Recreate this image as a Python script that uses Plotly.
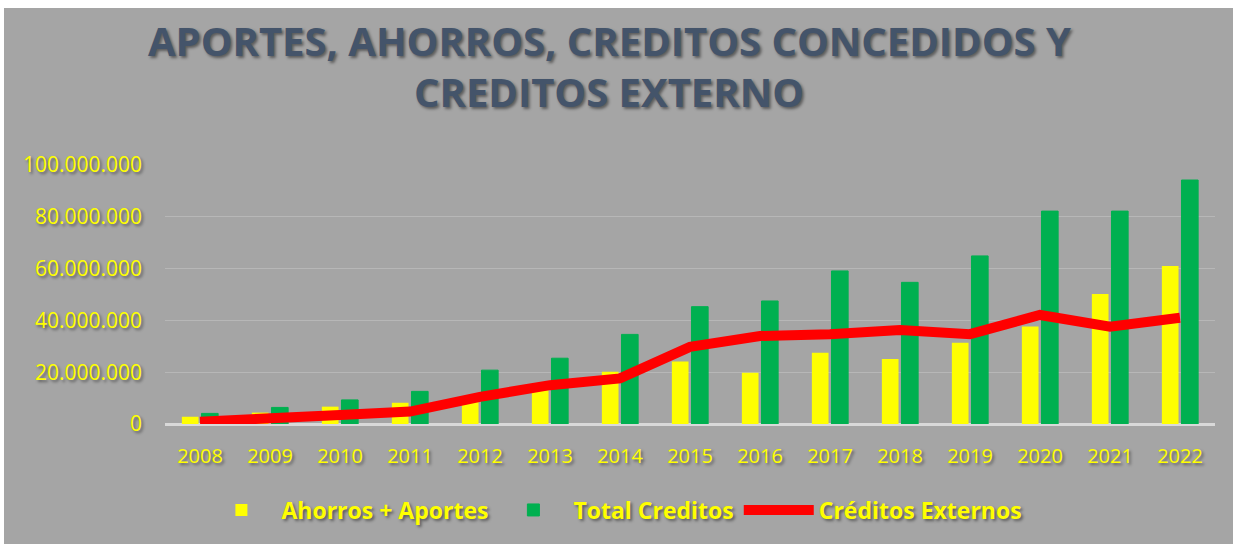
import plotly.graph_objects as go

# data
years = ["2008", "2009", "2010", "2011", "2012", "2013", "2014", "2015",
         "2016", "2017", "2018", "2019", "2020", "2021", "2022"]
ahorros_aportes = [2.8e6, 4.4e6, 6.7e6, 8.2e6, 10.8e6, 13.0e6, 20.2e6, 24.1e6,
                   19.8e6, 27.5e6, 25.1e6, 31.4e6, 37.6e6, 50.2e6, 61.0e6]
total_creditos = [4.1e6, 6.4e6, 9.3e6, 12.6e6, 20.8e6, 25.4e6, 34.6e6, 45.3e6,
                  47.5e6, 59.1e6, 54.7e6, 64.9e6, 82.2e6, 82.2e6, 94.2e6]
creditos_externos = [0.9e6, 1.8e6, 3.5e6, 4.8e6, 10.5e6, 15.0e6, 17.6e6, 29.8e6,
                     34.0e6, 34.7e6, 36.3e6, 34.7e6, 42.1e6, 37.6e6, 41.0e6]
y_ticks = [0, 20e6, 40e6, 60e6, 80e6, 100e6]
title_lines = ["APORTES, AHORROS, CREDITOS CONCEDIDOS Y", "CREDITOS EXTERNO"]

yellow = "#ffff00"
shadow = "2px 2px 3px rgba(0,0,0,0.45)"

fig = go.Figure()

fig.add_trace(go.Bar(
    x=years, y=ahorros_aportes, name="Ahorros + Aportes",
    marker=dict(color="#ffff00", line=dict(width=0)),
))
fig.add_trace(go.Bar(
    x=years, y=total_creditos, name="Total Creditos",
    marker=dict(color="#00b050", line=dict(color="#00b050", width=1)),
))
fig.add_trace(go.Scatter(
    x=years, y=creditos_externos, name="Créditos Externos",
    mode="lines", line=dict(color="#ff0000", width=10),
))

# two-line title as annotations so each line sits where the original has it
for txt, ty in zip(title_lines, [1.4826, 1.2819]):
    fig.add_annotation(
        text=txt, xref="paper", yref="paper", x=0.4229, y=ty,
        xanchor="center", yanchor="middle", showarrow=False,
        font=dict(family="Open Sans", size=40, color="#44546a",
                  weight="bold", shadow=shadow),
    )

fig.update_layout(
    width=1229, height=536,
    paper_bgcolor="#a5a5a5", plot_bgcolor="#a5a5a5",
    margin=dict(l=161, r=18, t=157, b=120),
    separators=",.",
    barmode="group", bargap=0.44, bargroupgap=0.15,
    font=dict(family="Open Sans", color=yellow),
    legend=dict(
        orientation="h", x=0.428, xanchor="center", y=-0.332, yanchor="middle",
        font=dict(size=23, color=yellow, weight="bold", shadow=shadow),
        bgcolor="rgba(0,0,0,0)", itemwidth=70, traceorder="normal",
    ),
    xaxis=dict(
        showgrid=False, ticks="", showline=False, ticklabelstandoff=18,
        tickfont=dict(size=20, color=yellow, shadow=shadow),
    ),
    yaxis=dict(
        range=[0, 100e6], tickvals=y_ticks, tickformat=",d",
        showgrid=True, gridcolor="#b7b7b7", gridwidth=1,
        zeroline=True, zerolinecolor="#d9d9d9", zerolinewidth=3,
        ticks="", ticklabelstandoff=22,
        tickfont=dict(size=21, color=yellow, shadow=shadow),
    ),
)

# white page edge on the top and left like the original picture
fig.write_html("out.html", post_script="document.body.style.margin='8px 0 0 4px';")
